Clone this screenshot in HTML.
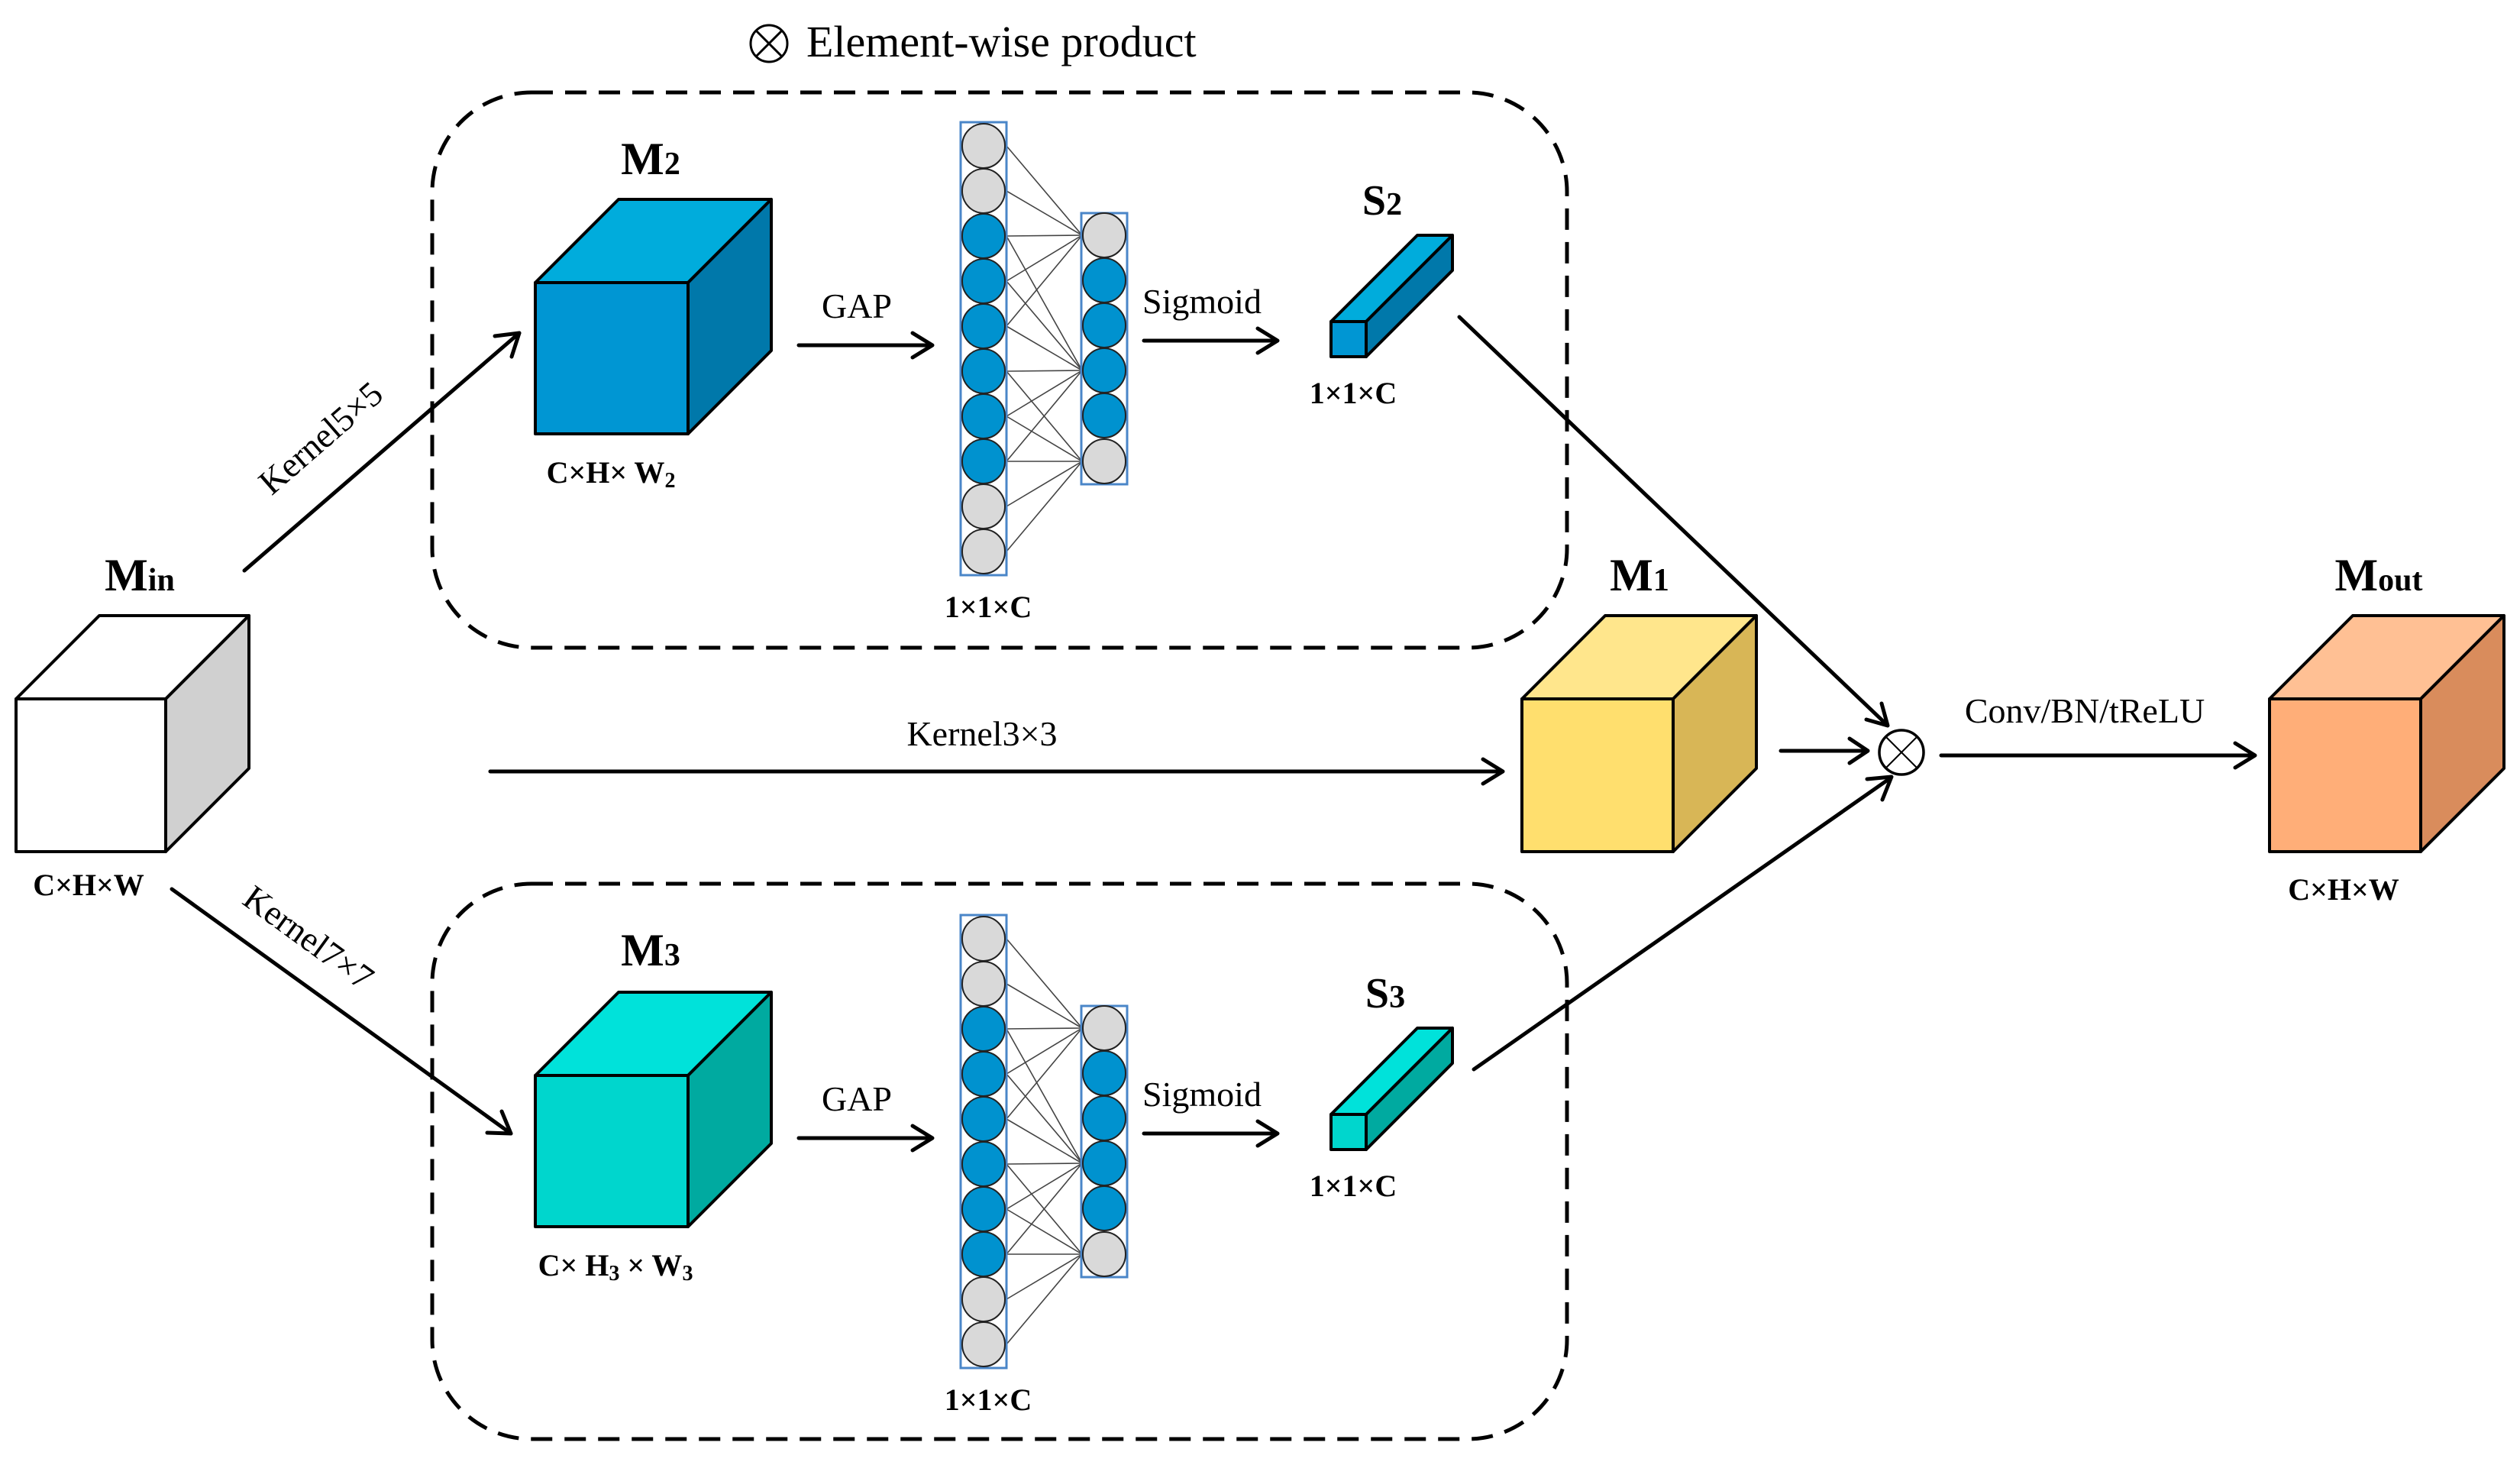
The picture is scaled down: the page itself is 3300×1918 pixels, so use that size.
<!DOCTYPE html>
<html><head><meta charset="utf-8"><style>
html,body{margin:0;padding:0;background:#fff;}
svg{display:block;}
text{font-family:"Liberation Serif",serif;fill:#000;}
</style></head><body>
<svg width="3300" height="1918" viewBox="0 0 3300 1918" xmlns="http://www.w3.org/2000/svg" font-family="Liberation Serif, serif">
<rect width="3300" height="1918" fill="#fff"/>

<!-- title -->
<circle cx="1007" cy="57" r="24" fill="none" stroke="#000" stroke-width="3"/>
<line x1="990" y1="40" x2="1024" y2="74" stroke="#000" stroke-width="3"/>
<line x1="1024" y1="40" x2="990" y2="74" stroke="#000" stroke-width="3"/>
<text x="1056" y="74" font-size="58" font-family="Liberation Serif, serif">Element-wise product</text>

<!-- dashed boxes -->
<rect x="566" y="121" width="1486" height="727" rx="130" fill="none" stroke="#000" stroke-width="5" stroke-dasharray="28 16"/>
<rect x="566" y="1157" width="1486" height="727" rx="130" fill="none" stroke="#000" stroke-width="5" stroke-dasharray="28 16"/>

<g stroke="#000" stroke-width="5" fill="none" stroke-linecap="round" stroke-linejoin="round">
<line x1="320" y1="747" x2="680" y2="436"/><polyline points="648,440 680,436 670,467"/>
<line x1="1046" y1="452" x2="1219" y2="452"/><polyline points="1195,436 1221,452 1195,468"/>
<line x1="1498" y1="446" x2="1671" y2="446"/><polyline points="1647,430 1673,446 1647,462"/>
<line x1="1046" y1="1490" x2="1219" y2="1490"/><polyline points="1195,1474 1221,1490 1195,1506"/>
<line x1="1498" y1="1484" x2="1671" y2="1484"/><polyline points="1647,1468 1673,1484 1647,1500"/>
<line x1="225" y1="1164" x2="669" y2="1484"/><polyline points="638,1483 669,1484 657,1455"/>
<line x1="642" y1="1010" x2="1966" y2="1010"/><polyline points="1942,994 1968,1010 1942,1026"/>
<line x1="2332" y1="983" x2="2444" y2="983"/><polyline points="2422,967 2446,983 2422,999"/>
<line x1="2542" y1="989" x2="2951" y2="989"/><polyline points="2927,973 2953,989 2927,1005"/>
<line x1="1911" y1="415" x2="2470" y2="948"/><polyline points="2444,942 2472,950 2464,921"/>
<line x1="1930" y1="1400" x2="2475" y2="1019"/><polyline points="2445,1020 2477,1017 2465,1047"/>
</g>

<circle cx="2490" cy="985" r="29" fill="#fff" stroke="#000" stroke-width="3.5"/>
<line x1="2470" y1="965" x2="2510" y2="1005" stroke="#000" stroke-width="2"/>
<line x1="2510" y1="965" x2="2470" y2="1005" stroke="#000" stroke-width="2"/>

<g stroke="#000" stroke-width="4" stroke-linejoin="round">
<polygon points="21,915 130,806 326,806 217,915" fill="#fff"/>
<polygon points="217,915 326,806 326,1006 217,1115" fill="#d0d0d0"/>
<rect x="21" y="915" width="196" height="200" fill="#fff"/>
<polygon points="701,370 810,261 1010,261 901,370" fill="#00acdc"/>
<polygon points="901,370 1010,261 1010,459 901,568" fill="#0078aa"/>
<rect x="701" y="370" width="200" height="198" fill="#0096d3"/>
<polygon points="701,1408 810,1299 1010,1299 901,1408" fill="#00e2da"/>
<polygon points="901,1408 1010,1299 1010,1497 901,1606" fill="#00aaa0"/>
<rect x="701" y="1408" width="200" height="198" fill="#00d6cd"/>
<polygon points="1993,915 2102,806 2300,806 2191,915" fill="#ffe68c"/>
<polygon points="2191,915 2300,806 2300,1006 2191,1115" fill="#d8b656"/>
<rect x="1993" y="915" width="198" height="200" fill="#ffdf6e"/>
<polygon points="2972,915 3081,806 3279,806 3170,915" fill="#ffc094"/>
<polygon points="3170,915 3279,806 3279,1006 3170,1115" fill="#d98c5c"/>
<rect x="2972" y="915" width="198" height="200" fill="#ffae78"/>
<polygon points="1743,421 1856,308 1902,308 1789,421" fill="#00acdc"/>
<polygon points="1789,421 1902,308 1902,354 1789,467" fill="#0078aa"/>
<rect x="1743" y="421" width="46" height="46" fill="#0096d3"/>
<polygon points="1743,1459 1856,1346 1902,1346 1789,1459" fill="#00e2da"/>
<polygon points="1789,1459 1902,1346 1902,1392 1789,1505" fill="#00aaa0"/>
<rect x="1743" y="1459" width="46" height="46" fill="#00d6cd"/>
</g>

<g id="nn">
<g stroke="#444" stroke-width="1.6">
<line x1="1318" y1="191" x2="1417" y2="308"/><line x1="1318" y1="250" x2="1417" y2="308"/><line x1="1318" y1="309" x2="1417" y2="308"/><line x1="1318" y1="368" x2="1417" y2="308"/><line x1="1318" y1="427" x2="1417" y2="308"/>
<line x1="1318" y1="309" x2="1417" y2="485"/><line x1="1318" y1="368" x2="1417" y2="485"/><line x1="1318" y1="427" x2="1417" y2="485"/><line x1="1318" y1="486" x2="1417" y2="485"/><line x1="1318" y1="545" x2="1417" y2="485"/><line x1="1318" y1="604" x2="1417" y2="485"/>
<line x1="1318" y1="486" x2="1417" y2="604"/><line x1="1318" y1="545" x2="1417" y2="604"/><line x1="1318" y1="604" x2="1417" y2="604"/><line x1="1318" y1="663" x2="1417" y2="604"/><line x1="1318" y1="722" x2="1417" y2="604"/>
</g>
<rect x="1258" y="160" width="60" height="593" fill="none" stroke="#4a86c8" stroke-width="3"/>
<rect x="1416" y="279" width="60" height="355" fill="none" stroke="#4a86c8" stroke-width="3"/>
<g stroke="#222" stroke-width="2">
<ellipse cx="1288" cy="191" rx="28" ry="29" fill="#d9d9d9"/>
<ellipse cx="1288" cy="250" rx="28" ry="29" fill="#d9d9d9"/>
<ellipse cx="1288" cy="309" rx="28" ry="29" fill="#0092cf"/>
<ellipse cx="1288" cy="368" rx="28" ry="29" fill="#0092cf"/>
<ellipse cx="1288" cy="427" rx="28" ry="29" fill="#0092cf"/>
<ellipse cx="1288" cy="486" rx="28" ry="29" fill="#0092cf"/>
<ellipse cx="1288" cy="545" rx="28" ry="29" fill="#0092cf"/>
<ellipse cx="1288" cy="604" rx="28" ry="29" fill="#0092cf"/>
<ellipse cx="1288" cy="663" rx="28" ry="29" fill="#d9d9d9"/>
<ellipse cx="1288" cy="722" rx="28" ry="29" fill="#d9d9d9"/>
<ellipse cx="1446" cy="308" rx="28" ry="29" fill="#d9d9d9"/>
<ellipse cx="1446" cy="367" rx="28" ry="29" fill="#0092cf"/>
<ellipse cx="1446" cy="426" rx="28" ry="29" fill="#0092cf"/>
<ellipse cx="1446" cy="485" rx="28" ry="29" fill="#0092cf"/>
<ellipse cx="1446" cy="544" rx="28" ry="29" fill="#0092cf"/>
<ellipse cx="1446" cy="604" rx="28" ry="29" fill="#d9d9d9"/>
</g>
</g>
<use href="#nn" transform="translate(0,1038)"/>

<g font-weight="bold" font-family="Liberation Serif, serif">
<text x="183" y="773" font-size="60" text-anchor="middle">M<tspan font-size="42">in</tspan></text>
<text x="852" y="228" font-size="60" text-anchor="middle">M<tspan font-size="42">2</tspan></text>
<text x="852" y="1264" font-size="60" text-anchor="middle">M<tspan font-size="42">3</tspan></text>
<text x="2147" y="773" font-size="60" text-anchor="middle">M<tspan font-size="42">1</tspan></text>
<text x="3115" y="773" font-size="60" text-anchor="middle">M<tspan font-size="42">out</tspan></text>
<text x="1810" y="281" font-size="56" text-anchor="middle">S<tspan font-size="42">2</tspan></text>
<text x="1814" y="1319" font-size="56" text-anchor="middle">S<tspan font-size="42">3</tspan></text>
<g font-size="40" text-anchor="middle">
<text x="116" y="1172">C×H×W</text>
<text x="3069" y="1178">C×H×W</text>
<text x="800" y="632">C×H× W<tspan font-size="28" dy="6">2</tspan></text>
<text x="806" y="1670">C× H<tspan font-size="28" dy="6">3</tspan><tspan dy="-6"> × W</tspan><tspan font-size="28" dy="6">3</tspan></text>
<text x="1294" y="808">1×1×C</text>
<text x="1294" y="1846">1×1×C</text>
<text x="1772" y="528">1×1×C</text>
<text x="1772" y="1566">1×1×C</text>
</g>
</g>
<g font-size="46" font-family="Liberation Serif, serif">
<text x="1122" y="416" text-anchor="middle">GAP</text>
<text x="1122" y="1454" text-anchor="middle">GAP</text>
<text x="1574" y="410" text-anchor="middle">Sigmoid</text>
<text x="1574" y="1448" text-anchor="middle">Sigmoid</text>
<text x="1286" y="976" text-anchor="middle">Kernel3×3</text>
<text x="2730" y="946" text-anchor="middle">Conv/BN/tReLU</text>
<text x="0" y="0" text-anchor="middle" transform="translate(430,585) rotate(-41)">Kernel5×5</text>
<text x="0" y="0" text-anchor="middle" transform="translate(395,1240) rotate(36)">Kernel7×7</text>
</g>
</svg>
</body></html>
